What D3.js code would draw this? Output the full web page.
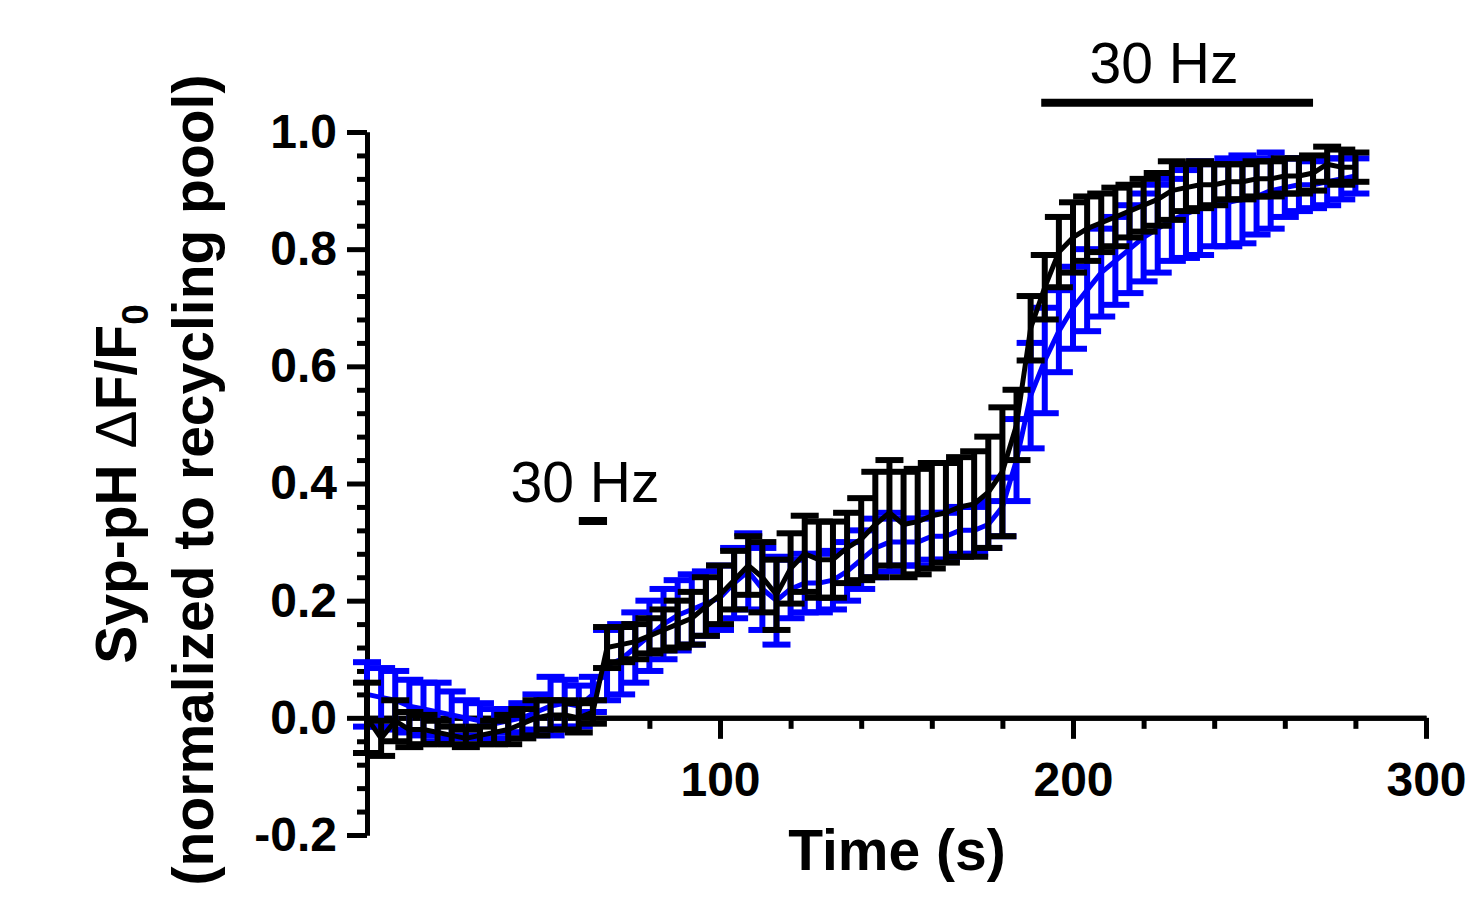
<!DOCTYPE html>
<html lang="en">
<head>
    <meta charset="UTF-8">
    <title>Syp-pH recycling pool</title>
    <style>
        body {
            margin: 0;
            background: #fff;
        }
        svg {
            display: block;
            font-family: "Liberation Sans", Arial, sans-serif;
        }
    </style>
</head>
<body>
    <svg width="1473" height="912"></svg>

    <script src="https://d3js.org/d3.v7.min.js"></script>
    <script>
        // sample times (s)
        const times = [
            0, 4, 8, 12, 16, 20, 24, 28, 32, 36,
            40, 44, 48, 52, 56, 60, 64, 68, 72, 76,
            80, 84, 88, 92, 96, 100, 104, 108, 112, 116,
            120, 124, 128, 132, 136, 140, 144, 148, 152, 156,
            160, 164, 168, 172, 176, 180, 184, 188, 192, 196,
            200, 204, 208, 212, 216, 220, 224, 228, 232, 236,
            240, 244, 248, 252, 256, 260, 264, 268, 272, 276,
            280
        ];

        const blackMean = [
            0.00, -0.035, -0.005, -0.02, -0.02, -0.025, -0.03, -0.035, -0.03, -0.025,
            -0.02, -0.01, 0.00, 0.005, 0.005, 0.00, 0.01, 0.12, 0.125, 0.13,
            0.14, 0.15, 0.16, 0.17, 0.19, 0.21, 0.235, 0.26, 0.24, 0.21,
            0.255, 0.28, 0.27, 0.27, 0.29, 0.305, 0.33, 0.35, 0.33, 0.335,
            0.345, 0.35, 0.36, 0.365, 0.385, 0.42, 0.50, 0.665, 0.735, 0.795,
            0.82, 0.835, 0.845, 0.855, 0.865, 0.875, 0.885, 0.90, 0.905, 0.91,
            0.91, 0.915, 0.915, 0.92, 0.92, 0.925, 0.925, 0.93, 0.945, 0.94,
            0.94
        ];
        const blackErr = [
            0.06, 0.03, 0.035, 0.03, 0.025, 0.02, 0.015, 0.015, 0.015, 0.02,
            0.025, 0.025, 0.03, 0.025, 0.025, 0.025, 0.02, 0.035, 0.03, 0.03,
            0.03, 0.035, 0.04, 0.045, 0.05, 0.05, 0.05, 0.05, 0.06, 0.06,
            0.06, 0.065, 0.065, 0.065, 0.06, 0.07, 0.09, 0.09, 0.09, 0.09,
            0.09, 0.085, 0.085, 0.09, 0.095, 0.11, 0.06, 0.055, 0.055, 0.06,
            0.06, 0.055, 0.05, 0.05, 0.045, 0.045, 0.045, 0.05, 0.04, 0.04,
            0.035, 0.03, 0.03, 0.03, 0.03, 0.03, 0.03, 0.03, 0.03, 0.03,
            0.025
        ];

        const blueMean = [
            0.04, 0.035, 0.03, 0.02, 0.015, 0.01, 0.005, 0.00, -0.005, -0.01,
            -0.005, 0.00, 0.01, 0.02, 0.025, 0.02, 0.04, 0.09, 0.10, 0.12,
            0.14, 0.16, 0.175, 0.185, 0.195, 0.205, 0.23, 0.25, 0.22, 0.20,
            0.22, 0.23, 0.23, 0.235, 0.25, 0.27, 0.29, 0.30, 0.30, 0.30,
            0.31, 0.31, 0.32, 0.32, 0.33, 0.36, 0.44, 0.55, 0.61, 0.66,
            0.70, 0.73, 0.76, 0.78, 0.80, 0.82, 0.835, 0.85, 0.86, 0.87,
            0.875, 0.88, 0.885, 0.89, 0.90, 0.905, 0.91, 0.91, 0.915, 0.92,
            0.925
        ];
        const blueErr = [
            0.055, 0.05, 0.05, 0.045, 0.045, 0.05, 0.04, 0.03, 0.03, 0.025,
            0.02, 0.025, 0.03, 0.05, 0.04, 0.035, 0.03, 0.06, 0.06, 0.06,
            0.06, 0.06, 0.06, 0.06, 0.055, 0.055, 0.06, 0.065, 0.07, 0.075,
            0.05, 0.05, 0.05, 0.05, 0.05, 0.05, 0.05, 0.05, 0.04, 0.04,
            0.04, 0.04, 0.04, 0.04, 0.04, 0.05, 0.07, 0.09, 0.09, 0.07,
            0.07, 0.07, 0.075, 0.075, 0.075, 0.075, 0.075, 0.07, 0.075, 0.08,
            0.07, 0.075, 0.075, 0.065, 0.065, 0.05, 0.045, 0.04, 0.04, 0.035,
            0.03
        ];

        // 30 Hz stimulation windows (s)
        const stimStart = [60, 191];
        const stimEnd = [68, 268];
        const stimLabel = ["30 Hz", "30 Hz"];

        const yMajor = [-0.2, 0.0, 0.2, 0.4, 0.6, 0.8, 1.0];
        const yMinor = [-0.16, -0.12, -0.08, -0.04, 0.04, 0.08, 0.12, 0.16, 0.24, 0.28, 0.32, 0.36,
            0.44, 0.48, 0.52, 0.56, 0.64, 0.68, 0.72, 0.76, 0.84, 0.88, 0.92, 0.96];
        const xMajor = [100, 200, 300];
        const xMinor = [20, 40, 60, 80, 120, 140, 160, 180, 220, 240, 260, 280];

        const svg = d3.select("svg");

        const x = d3.scaleLinear().domain([0, 300]).range([367, 1426]);
        const y = d3.scaleLinear().domain([-0.2, 1.0]).range([835, 132]);

        function styleAxis(g) {
            g.select(".domain").attr("stroke", "#000").attr("stroke-width", 5);
            g.selectAll(".tick line").attr("stroke", "#000").attr("stroke-width", 5);
            g.selectAll(".tick text")
                .attr("fill", "#000")
                .style("font-size", "48px")
                .style("font-weight", "bold");
        }

        // y axis
        svg.append("g")
            .attr("transform", "translate(367,0)")
            .call(d3.axisLeft(y).tickValues(yMinor).tickSize(10).tickFormat("").tickSizeOuter(0))
            .call(styleAxis);
        svg.append("g")
            .attr("transform", "translate(367,0)")
            .call(d3.axisLeft(y).tickValues(yMajor).tickSize(20).tickPadding(10)
                .tickFormat(d3.format(".1f")).tickSizeOuter(0))
            .call(styleAxis)
            .call(g => g.selectAll(".tick text").text(d => d3.format(".1f")(d).replace("−", "-")));

        // x axis at y = 0
        svg.append("g")
            .attr("transform", `translate(0,${y(0)})`)
            .call(d3.axisBottom(x).tickValues(xMinor).tickSize(11).tickFormat("").tickSizeOuter(0))
            .call(styleAxis);
        svg.append("g")
            .attr("transform", `translate(0,${y(0)})`)
            .call(d3.axisBottom(x).tickValues(xMajor).tickSize(21).tickPadding(23).tickSizeOuter(0))
            .call(styleAxis);

        // axis titles
        svg.append("text")
            .attr("x", 897)
            .attr("y", 870)
            .attr("text-anchor", "middle")
            .style("font-size", "57px")
            .style("font-weight", "bold")
            .text("Time (s)");

        const yTitle = svg.append("text")
            .attr("transform", `translate(136,${484}) rotate(-90)`)
            .attr("text-anchor", "middle")
            .style("font-size", "57px")
            .style("font-weight", "bold");
        yTitle.append("tspan").text("Syp-pH  ");
        yTitle.append("tspan").style("font-weight", "normal").text("Δ");
        yTitle.append("tspan").text("F/F");
        yTitle.append("tspan").attr("dy", 12).style("font-size", "37px").text("0");

        svg.append("text")
            .attr("transform", `translate(213,${480}) rotate(-90)`)
            .attr("text-anchor", "middle")
            .style("font-size", "57px")
            .style("font-weight", "bold")
            .text("(normalized to recycling pool)");

        // series
        function drawSeries(mean, err, color) {
            const pts = times.map((t, i) => ({ t: t, m: mean[i], e: err[i] }));
            const g = svg.append("g");
            const cap = 14;

            g.selectAll("line.stem")
                .data(pts)
                .enter()
                .append("line")
                .attr("x1", d => x(d.t))
                .attr("x2", d => x(d.t))
                .attr("y1", d => y(d.m + d.e))
                .attr("y2", d => y(d.m - d.e))
                .attr("stroke", color)
                .attr("stroke-width", 6);

            g.selectAll("line.top")
                .data(pts)
                .enter()
                .append("line")
                .attr("x1", d => x(d.t) - cap)
                .attr("x2", d => x(d.t) + cap)
                .attr("y1", d => y(d.m + d.e))
                .attr("y2", d => y(d.m + d.e))
                .attr("stroke", color)
                .attr("stroke-width", 6);

            g.selectAll("line.bottom")
                .data(pts)
                .enter()
                .append("line")
                .attr("x1", d => x(d.t) - cap)
                .attr("x2", d => x(d.t) + cap)
                .attr("y1", d => y(d.m - d.e))
                .attr("y2", d => y(d.m - d.e))
                .attr("stroke", color)
                .attr("stroke-width", 6);

            g.append("path")
                .datum(pts)
                .attr("fill", "none")
                .attr("stroke", color)
                .attr("stroke-width", 5)
                .attr("stroke-linejoin", "round")
                .attr("d", d3.line().x(d => x(d.t)).y(d => y(d.m)));
        }

        drawSeries(blueMean, blueErr, "#0000ff");
        drawSeries(blackMean, blackErr, "#000000");

        // stimulation bars and labels
        const barLevel = [0.336, 1.05];
        const labelLevel = [0.369, 1.084];
        stimStart.forEach((s, i) => {
            svg.append("line")
                .attr("x1", x(s))
                .attr("x2", x(stimEnd[i]))
                .attr("y1", y(barLevel[i]))
                .attr("y2", y(barLevel[i]))
                .attr("stroke", "#000")
                .attr("stroke-width", 8);
            svg.append("text")
                .attr("x", i === 0 ? 585 : 1164)
                .attr("y", y(labelLevel[i]))
                .attr("text-anchor", "middle")
                .style("font-size", "57px")
                .text(stimLabel[i]);
        });
    </script>
</body>
</html>
